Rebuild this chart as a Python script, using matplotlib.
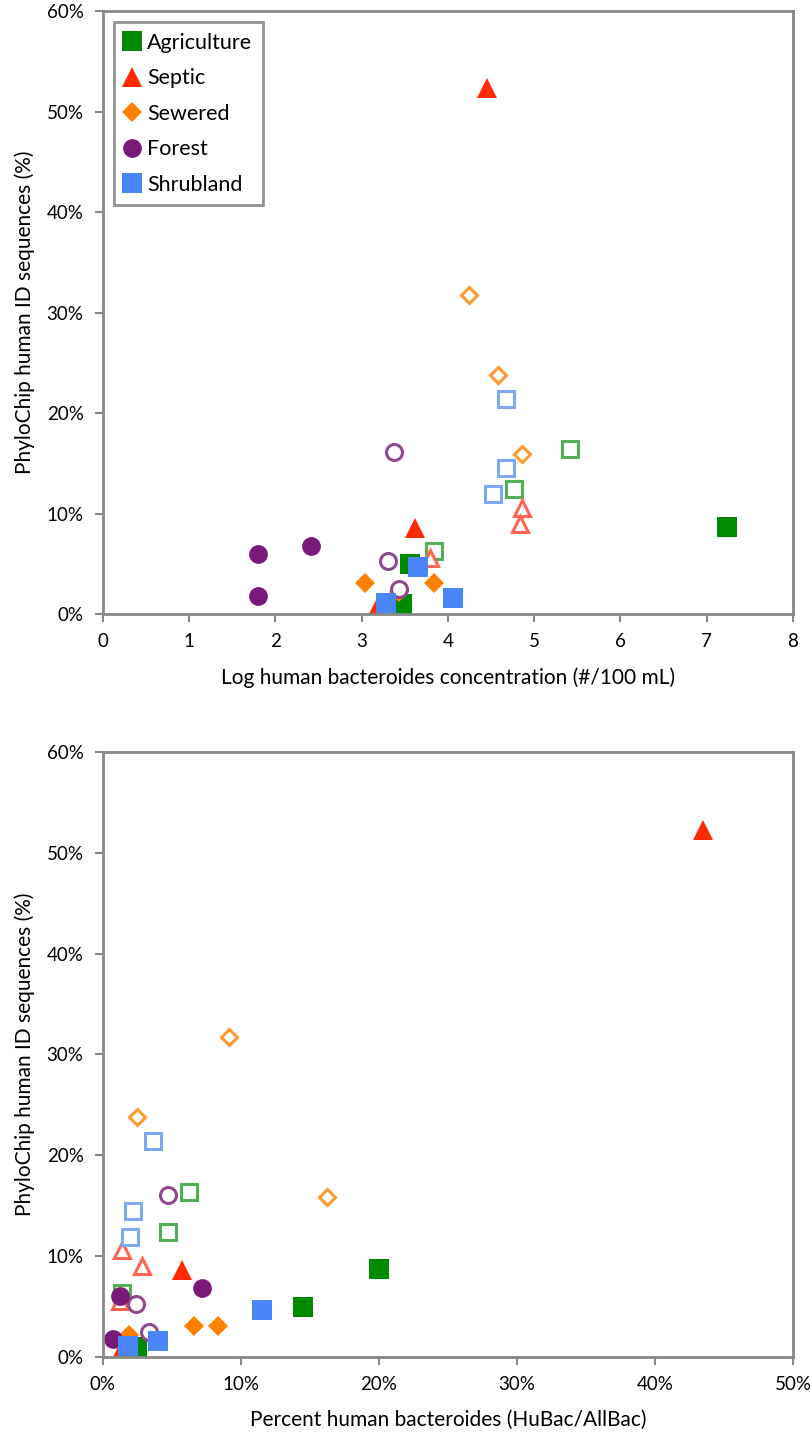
import matplotlib.pyplot as plt
from matplotlib.ticker import FuncFormatter

plt.rcParams['font.family'] = ['Lato', 'DejaVu Sans']

groups = ['Agriculture', 'Septic', 'Sewered', 'Forest', 'Shrubland']

# filled markers (x: log conc, x2: percent HuBac/AllBac, y: PhyloChip %)
log_filled = {
    'Agriculture': [7.23, 3.56, 3.47],
    'Septic': [4.45, 3.62, 3.17],
    'Sewered': [3.04, 3.84, 3.43],
    'Forest': [1.80, 1.80, 2.41],
    'Shrubland': [3.65, 3.28, 4.06],
}
pct_filled = {
    'Agriculture': [20.0, 14.5, 2.5],
    'Septic': [43.5, 5.7, 1.2],
    'Sewered': [6.6, 8.3, 1.9],
    'Forest': [1.2, 0.75, 7.2],
    'Shrubland': [11.5, 1.8, 4.0],
}
seq_filled = {
    'Agriculture': [8.7, 5.0, 1.0],
    'Septic': [52.3, 8.6, 0.4],
    'Sewered': [3.1, 3.1, 2.2],
    'Forest': [6.0, 1.8, 6.8],
    'Shrubland': [4.7, 1.1, 1.6],
}

# open markers
log_open = {
    'Agriculture': [3.84, 5.41, 4.77],
    'Septic': [3.79, 4.86, 4.83],
    'Sewered': [4.24, 4.58, 4.86],
    'Forest': [3.43, 3.31, 3.37],
    'Shrubland': [4.67, 4.67, 4.52],
}
pct_open = {
    'Agriculture': [1.4, 6.2, 4.7],
    'Septic': [1.2, 1.4, 2.8],
    'Sewered': [9.1, 2.5, 16.2],
    'Forest': [3.3, 2.4, 4.7],
    'Shrubland': [3.6, 2.2, 1.96],
}
seq_open = {
    'Agriculture': [6.3, 16.4, 12.4],
    'Septic': [5.6, 10.6, 9.0],
    'Sewered': [31.7, 23.8, 15.9],
    'Forest': [2.5, 5.3, 16.1],
    'Shrubland': [21.4, 14.5, 11.9],
}

markers = {'Agriculture': 's', 'Septic': '^', 'Sewered': 'D', 'Forest': 'o', 'Shrubland': 's'}
fill_col = {'Agriculture': '#008a00', 'Septic': '#ff2a00', 'Sewered': '#ff8000',
            'Forest': '#7a1a78', 'Shrubland': '#4a86f7'}
open_col = {'Agriculture': '#55b055', 'Septic': '#ff6652', 'Sewered': '#ff9a33',
            'Forest': '#8e4a8c', 'Shrubland': '#80a9f5'}
fill_size = {'Agriculture': 14, 'Septic': 14, 'Sewered': 10.5, 'Forest': 13.5, 'Shrubland': 14}
open_size = {'Agriculture': 12, 'Septic': 12, 'Sewered': 8.5, 'Forest': 11.5, 'Shrubland': 12}

fig = plt.figure(figsize=(8.12, 14.39), dpi=100)
ax1 = fig.add_axes([0.1268, 0.5733, 0.8498, 0.4190])
ax2 = fig.add_axes([0.1268, 0.0570, 0.8498, 0.4204])

def style(ax):
    for s in ax.spines.values():
        s.set_color('#888888')
        s.set_linewidth(2)
    ax.tick_params(colors='#888888', width=1.5, length=6, labelcolor='black',
                   labelsize=13.5, pad=8)
    ax.set_ylim(0, 60)
    ax.set_yticks(range(0, 61, 10))
    ax.yaxis.set_major_formatter(FuncFormatter(lambda v, p: '%d%%' % v))
    ax.set_ylabel('PhyloChip human ID sequences (%)', fontsize=15, labelpad=8)

for ax, xf, xo in [(ax1, log_filled, log_open), (ax2, pct_filled, pct_open)]:
    for g in groups:
        ax.plot(xo[g], seq_open[g], linestyle='none', marker=markers[g],
                markersize=open_size[g], markerfacecolor='white',
                markeredgecolor=open_col[g], markeredgewidth=2.2)
        ax.plot(xf[g], seq_filled[g], linestyle='none', marker=markers[g],
                markersize=fill_size[g], color=fill_col[g], markeredgewidth=0,
                label=g)
    style(ax)

ax1.set_xlim(0, 8)
ax1.set_xticks(range(0, 9))
ax1.set_xlabel('Log human bacteroides concentration (#/100 mL)', fontsize=15, labelpad=12)

ax2.set_xlim(0, 50)
ax2.set_xticks(range(0, 51, 10))
ax2.xaxis.set_major_formatter(FuncFormatter(lambda v, p: '%d%%' % v))
ax2.set_xlabel('Percent human bacteroides (HuBac/AllBac)', fontsize=15, labelpad=12)

leg = ax1.legend(loc='upper left', fontsize=15.5, frameon=True, fancybox=False,
                 handlelength=0.7, handletextpad=0.35, borderpad=0.5,
                 labelspacing=0.72, markerscale=1.0, borderaxespad=0.5)
leg.get_frame().set_edgecolor('#777777')
leg.get_frame().set_linewidth(2)

fig.savefig('out.png', dpi=100)
